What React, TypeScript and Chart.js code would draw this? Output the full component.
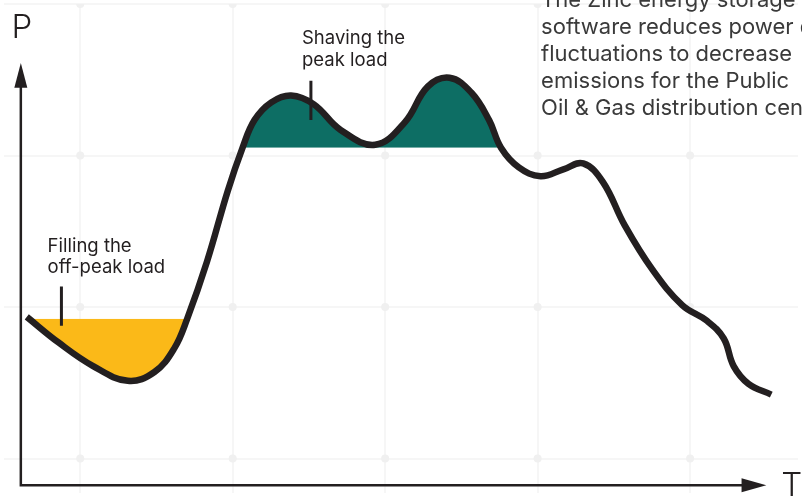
import React, { useEffect, useRef } from "react";
import { Chart, registerables } from "chart.js";
Chart.register(...registerables);

const W = 802;
const H = 497;

// Load curve: T = time units from origin, P = power units above the T axis
const curveT = [6, 38, 73, 108, 135, 155, 168, 188, 209, 224, 236, 253, 273, 296, 323, 358, 388, 411, 433, 455, 473, 485, 503, 525, 548, 568, 588, 610, 638, 668, 693, 710, 720, 735, 758];
const curveP = [171, 145, 121, 106, 115, 139, 169, 227, 299, 343, 371, 389, 396, 387, 361, 346, 369, 405, 414, 399, 371, 343, 323, 314, 321, 327, 308, 264, 219, 183, 167, 149, 121, 103, 92];

// thresholds
const offPeakLevel = 169;
const peakLevel = 343;
const offPeakRange = [0, 168];
const peakRange = [224, 485];

// background grid
const gridT = [60, 214, 368, 522, 676];
const gridP = [489, 335, 181, 27];

// texts
const offPeakLabel = ["Filling the", "off-peak load"];
const peakLabel = ["Shaving the", "peak load"];
const paragraph = [
  "The Zinc energy storage system",
  "software reduces power demand",
  "fluctuations to decrease",
  "emissions for the Public",
  "Oil & Gas distribution center",
];
const axisLabels = ["P", "T"];

const INK = "#231f20";
const YELLOW = "#fbb918";
const TEAL = "#0d6e64";
const TENSION = 0.4;

export default function App() {
  const ref = useRef<HTMLCanvasElement>(null);
  useEffect(() => {
    document.body.style.margin = "0";
    const canvas = ref.current!;
    const pts = curveT.map((t, i) => ({ x: t, y: curveP[i] }));
    const offPts = pts.filter((p) => p.x >= offPeakRange[0] && p.x <= offPeakRange[1]);
    const peakPts = pts.filter((p) => p.x >= peakRange[0] && p.x <= peakRange[1]);
    const dots: { x: number; y: number }[] = [];
    gridT.forEach((t) => gridP.forEach((p) => dots.push({ x: t, y: p })));

    const overlay = {
      id: "overlay",
      afterDatasetsDraw(chart: any) {
        const c = chart.ctx as CanvasRenderingContext2D;
        const xs = chart.scales.x;
        const ys = chart.scales.y;
        const X = (v: number) => xs.getPixelForValue(v);
        const Y = (v: number) => ys.getPixelForValue(v);
        c.save();
        // axes
        c.strokeStyle = INK;
        c.fillStyle = INK;
        c.lineWidth = 2.5;
        const ox = X(0), oy = Y(0);
        c.beginPath();
        c.moveTo(ox, oy + 1.25);
        c.lineTo(ox, Y(406));
        c.moveTo(ox - 1.25, oy);
        c.lineTo(X(730), oy);
        c.stroke();
        c.beginPath();
        c.moveTo(ox, Y(429));
        c.lineTo(ox - 6.5, Y(404));
        c.lineTo(ox + 6.5, Y(404));
        c.closePath();
        c.fill();
        c.beginPath();
        c.moveTo(X(753), oy);
        c.lineTo(X(728), oy - 7);
        c.lineTo(X(728), oy + 7);
        c.closePath();
        c.fill();
        // axis labels
        c.font = "300 33px Inter";
        c.textBaseline = "alphabetic";
        c.fillText(axisLabels[0], X(-9.5), Y(454));
        c.fillText(axisLabels[1], X(768), Y(-11));
        // annotation ticks
        c.lineWidth = 3;
        c.beginPath();
        c.moveTo(X(41), Y(202));
        c.lineTo(X(41), Y(162));
        c.moveTo(X(293), Y(411));
        c.lineTo(X(293), Y(371));
        c.stroke();
        // annotation labels
        c.font = "400 18.5px Inter";
        c.fillText(offPeakLabel[0], X(27), Y(237));
        c.fillText(offPeakLabel[1], X(27), Y(216));
        c.fillText(peakLabel[0], X(284), Y(448));
        c.fillText(peakLabel[1], X(284), Y(426));
        // paragraph
        c.fillStyle = "#3a3a3a";
        c.font = "400 22px Inter";
        paragraph.forEach((line, i) => {
          c.fillText(line, X(525.5), Y(485.5 - i * 27.3));
        });
        c.restore();
      },
    };

    const gridScale = (vals: number[]) => (s: any) => {
      s.ticks = vals.map((v) => ({ value: v }));
    };

    const chart = new Chart(canvas, {
      type: "line",
      data: {
        datasets: [
          {
            label: "load",
            data: pts,
            borderColor: INK,
            borderWidth: 6.5,
            borderCapStyle: "butt",
            borderJoinStyle: "round",
            pointRadius: 0,
            tension: TENSION,
            fill: false,
            order: 1,
          },
          {
            label: "off-peak",
            data: offPts,
            borderWidth: 0,
            borderColor: "rgba(0,0,0,0)",
            pointRadius: 0,
            tension: TENSION,
            fill: { target: { value: offPeakLevel }, above: "rgba(0,0,0,0)", below: YELLOW },
            order: 5,
          },
          {
            label: "peak",
            data: peakPts,
            borderWidth: 0,
            borderColor: "rgba(0,0,0,0)",
            pointRadius: 0,
            tension: TENSION,
            fill: { target: { value: peakLevel }, above: TEAL, below: "rgba(0,0,0,0)" },
            order: 5,
          },
          {
            type: "scatter",
            label: "grid dots",
            data: dots,
            pointRadius: 4,
            pointBackgroundColor: "#f0f0f0",
            pointBorderWidth: 0,
            showLine: false,
            order: 10,
          } as any,
        ],
      },
      options: {
        responsive: false,
        animation: false,
        devicePixelRatio: 1,
        layout: { padding: 0 },
        plugins: { legend: { display: false }, tooltip: { enabled: false } },
        events: [],
        scales: {
          x: {
            type: "linear",
            min: -17,
            max: 785,
            afterBuildTicks: gridScale(gridT),
            ticks: { display: false },
            grid: { color: "#f6f6f6", lineWidth: 2, drawTicks: false },
            border: { display: false },
          },
          y: {
            type: "linear",
            min: -8,
            max: 489,
            afterBuildTicks: gridScale(gridP),
            ticks: { display: false },
            grid: { color: "#f6f6f6", lineWidth: 2, drawTicks: false },
            border: { display: false },
          },
        },
      },
      plugins: [overlay],
    } as any);
    return () => chart.destroy();
  }, []);
  return (
    <div style={{ width: W, height: H, position: "relative" }}>
      <canvas ref={ref} width={W} height={H} style={{ display: "block", width: W, height: H }} />
    </div>
  );
}
